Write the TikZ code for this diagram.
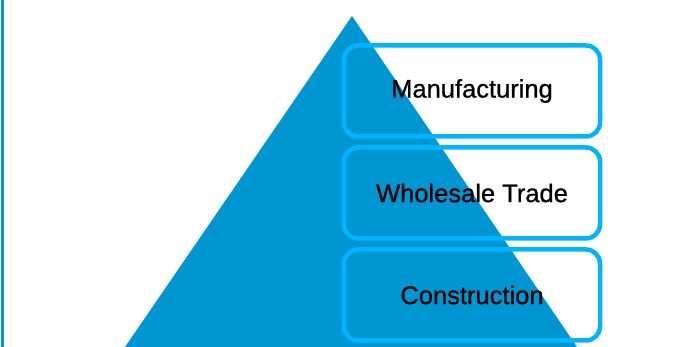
\documentclass[tikz,border=0pt]{standalone}
\usepackage{fontspec}
\setmainfont[FakeBold=0.8]{Liberation Sans}
\usetikzlibrary{positioning}

\definecolor{pyramidblue}{HTML}{0096D2}
\definecolor{boxblue}{HTML}{00B4FF}

\begin{document}
\begin{tikzpicture}[x=1pt,y=1pt,
    sector/.style={draw=boxblue,line width=4.5pt,rounded corners=14pt,
      minimum width=256pt,minimum height=91pt,inner sep=0pt,
      font=\fontsize{25.5}{30}\selectfont}]

  \useasboundingbox (0,0) rectangle (692,347);

  \fill [pyramidblue] (0.5,0) rectangle (4,347);
  \fill [pyramidblue] (352,331) -- (577,0) -- (125,0) -- cycle;

  \node [sector] (mfg) at (472,256) {Manufacturing};
  \node [sector,below=6.5pt of mfg] (trade) {Wholesale Trade};
  \node [sector,below=6.5pt of trade] (build) {Construction};

\end{tikzpicture}
\end{document}
